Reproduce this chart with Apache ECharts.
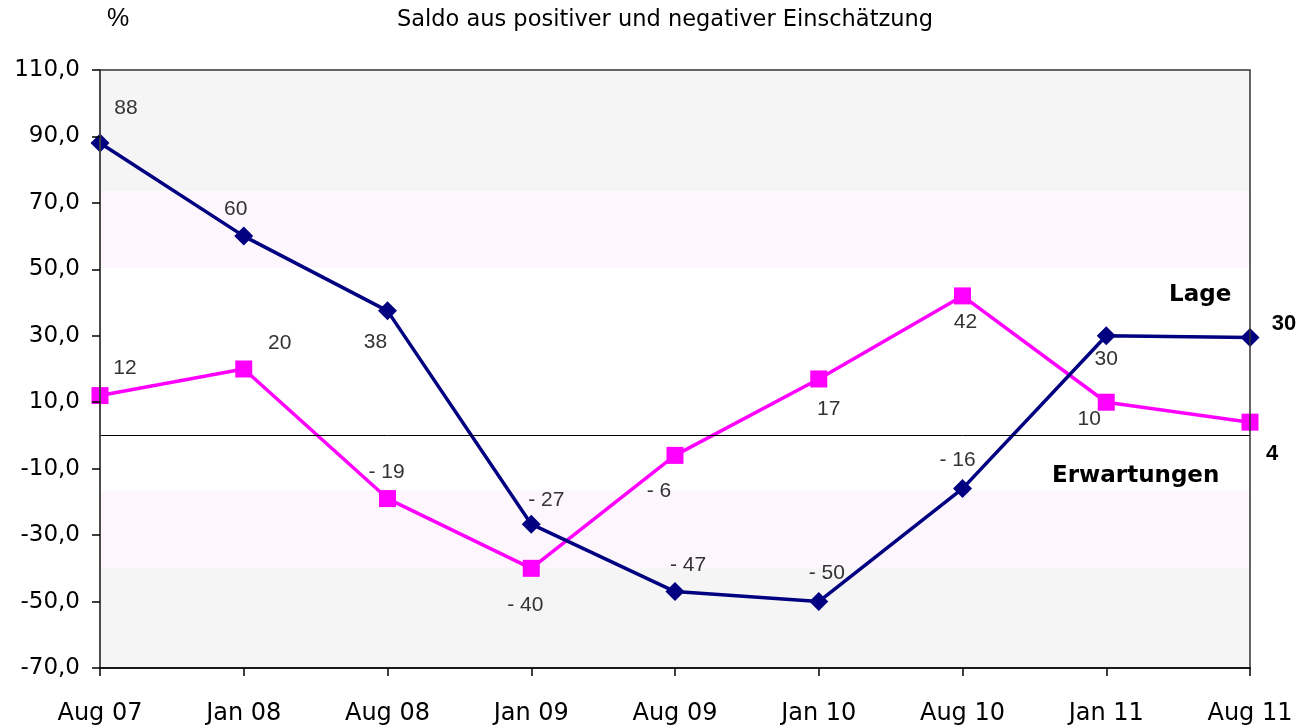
<!DOCTYPE html>
<html>
<head>
<meta charset="utf-8">
<script src="https://cdn.jsdelivr.net/npm/echarts@6/dist/echarts.min.js"></script>
<style>
  html, body { margin: 0; padding: 0; background: #fff; }
  #chart { width: 1297px; height: 728px; }
</style>
</head>
<body>
<div id="chart"></div>
<script>
// Daten
var categories = ['Aug 07', 'Jan 08', 'Aug 08', 'Jan 09', 'Aug 09', 'Jan 10', 'Aug 10', 'Jan 11', 'Aug 11'];
var lage = [88, 60, 37.5, -26.7, -47, -50, -16, 30, 29.5];
var erwartungen = [12, 20, -19, -40, -6, 17, 42, 10, 4];
var yTicks = [-70, -50, -30, -10, 10, 30, 50, 70, 90, 110];

// Hintergrundbänder [von, bis, farbe]
var bands = [
    [73.5, 110, '#f5f5f5'],
    [50.5, 73.5, '#fdf7fd'],
    [-40, -16.5, '#fdf7fd'],
    [-70, -40, '#f5f5f5']
];

// Label-Versatz je Punkt (px)
var lageOffsets = [[26, -35], [-8, -27], [-12, 31], [15, -24], [13, -26], [8, -28], [-5, -28], [0, 23], [34, -14]];
var erwOffsets = [[25, -27], [36, -26], [-1, -26], [-6, 37], [-16, 36], [10, 30], [3, 26], [-17, 17], [22, 32]];

var FONT = 'Arial, "Liberation Sans", sans-serif';
var WIDE = '"DejaVu Sans", Verdana, sans-serif';

function fmt(v) {
    v = Math.round(v);
    return v < 0 ? '- ' + (-v) : '' + v;
}

function buildData(values, offsets) {
    return values.map(function(v, i) {
        var last = i === values.length - 1;
        return {
            value: v,
            label: {
                offset: offsets[i],
                fontWeight: last ? 'bold' : 'normal',
                fontSize: last ? 22 : 21,
                color: last ? '#000' : '#333'
            }
        };
    });
}

var chart = echarts.init(document.getElementById('chart'));

var option = {
    backgroundColor: '#fff',
    animation: false,
    title: {
        text: 'Saldo aus positiver und negativer Einschätzung',
        left: 660,
        top: 4,
        textAlign: 'center',
        textStyle: { fontFamily: WIDE, fontSize: 22.5, fontWeight: 'normal', color: '#000' }
    },
    grid: {
        left: 100, right: 47, top: 70, bottom: 60,
        show: true,
        z: 10,
        borderColor: '#333',
        borderWidth: 1.5,
        backgroundColor: 'transparent'
    },
    xAxis: {
        type: 'category',
        data: categories,
        boundaryGap: false,
        z: 10,
        axisLine: { onZero: false, lineStyle: { color: '#000', width: 1.5 } },
        axisTick: { length: 8, lineStyle: { color: '#000', width: 1.5 } },
        axisLabel: { margin: 34, fontFamily: WIDE, fontSize: 24, color: '#000' },
        splitLine: { show: false }
    },
    yAxis: {
        type: 'value',
        min: yTicks[0],
        max: yTicks[yTicks.length - 1],
        interval: 20,
        z: 10,
        axisLine: { show: true, lineStyle: { color: '#444', width: 1.5 } },
        axisTick: { show: true, length: 8, lineStyle: { color: '#000', width: 1.5 } },
        axisLabel: {
            margin: 20, fontFamily: WIDE, fontSize: 23, color: '#000',
            formatter: function(v) { return v.toFixed(1).replace('.', ','); }
        },
        splitLine: { show: false }
    },
    graphic: [
        { type: 'text', left: 107, top: 7, style: { text: '%', font: '25px ' + FONT, fill: '#000' } },
        { type: 'text', left: 1169, top: 284, style: { text: 'Lage', font: 'bold 23px ' + WIDE, fill: '#000' } },
        { type: 'text', left: 1052, top: 465, style: { text: 'Erwartungen', font: 'bold 23px ' + WIDE, fill: '#000' } }
    ],
    series: [
        {
            name: 'Bänder',
            type: 'line',
            data: [],
            silent: true,
            z: -1,
            markArea: {
                silent: true,
                data: bands.map(function(b) {
                    return [{ yAxis: b[0], itemStyle: { color: b[2] } }, { yAxis: b[1] }];
                })
            },
            markLine: {
                silent: true,
                symbol: 'none',
                label: { show: false },
                lineStyle: { color: '#000', width: 1, type: 'solid' },
                data: [{ yAxis: 0 }]
            }
        },
        {
            name: 'Erwartungen',
            type: 'line',
            data: buildData(erwartungen, erwOffsets),
            symbol: 'rect',
            symbolSize: 17,
            lineStyle: { color: '#ff00ff', width: 3.5 },
            itemStyle: { color: '#ff00ff' },
            label: { show: true, position: 'inside', fontFamily: FONT, formatter: function(p) { return fmt(p.value); } },
            z: 3
        },
        {
            name: 'Lage',
            type: 'line',
            data: buildData(lage, lageOffsets),
            symbol: 'diamond',
            symbolSize: 19,
            lineStyle: { color: '#000080', width: 3.5 },
            itemStyle: { color: '#000080' },
            label: { show: true, position: 'inside', fontFamily: FONT, formatter: function(p) { return fmt(p.value); } },
            z: 4
        }
    ]
};

chart.setOption(option);
</script>
</body>
</html>
